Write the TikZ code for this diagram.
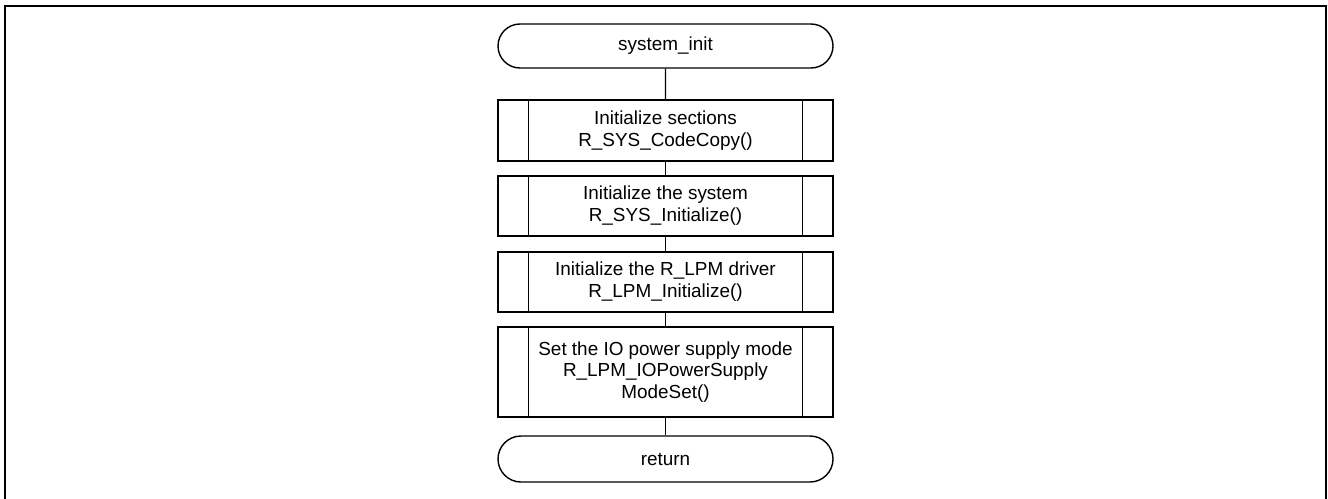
\documentclass[tikz,border=0pt]{standalone}
\usepackage{fontspec}
\setmainfont{Liberation Sans}
\usetikzlibrary{shapes.misc}
\begin{document}
\begin{tikzpicture}[x=1pt,y=-1pt,line width=1.4pt,
  txt/.style={font=\fontsize{18.9}{21.8}\selectfont},
  term/.style={draw,rounded rectangle,minimum width=335pt,inner sep=0pt,txt},
  sub/.style={draw,rectangle,minimum width=335pt,inner sep=0pt,align=center,txt},
  conn/.style={draw,line width=1.4pt}]
\useasboundingbox (0,0) rectangle (1328,498);
\begin{scope}
\clip (0,0) rectangle (1328,498);
\draw[line width=2.2pt] (5,6) rectangle (1326,520);
\end{scope}
\node[term,minimum height=44pt] (s) at (665.5,46) {system\_init};
\node[sub,minimum height=61pt] (b1) at (665.5,130.5) {Initialize sections\\R\_SYS\_CodeCopy()};
\node[sub,minimum height=60pt] (b2) at (665.5,206) {Initialize the system\\R\_SYS\_Initialize()};
\node[sub,minimum height=60pt] (b3) at (665.5,282) {Initialize the R\_LPM driver\\R\_LPM\_Initialize()};
\node[sub,minimum height=90pt] (b4) at (665.5,372) {Set the IO power supply mode\\R\_LPM\_IOPowerSupply\\ModeSet()};
\node[term,minimum height=46pt] (r) at (665.5,459) {return};
\foreach \n in {b1,b2,b3,b4}{
  \draw ([xshift=31pt]\n.north west) -- ([xshift=31pt]\n.south west);
  \draw ([xshift=-31pt]\n.north east) -- ([xshift=-31pt]\n.south east);
}
\draw[conn] (s) -- (b1);
\draw[conn] (b1) -- (b2);
\draw[conn] (b2) -- (b3);
\draw[conn] (b3) -- (b4);
\draw[conn] (b4) -- (r);
\end{tikzpicture}
\end{document}
